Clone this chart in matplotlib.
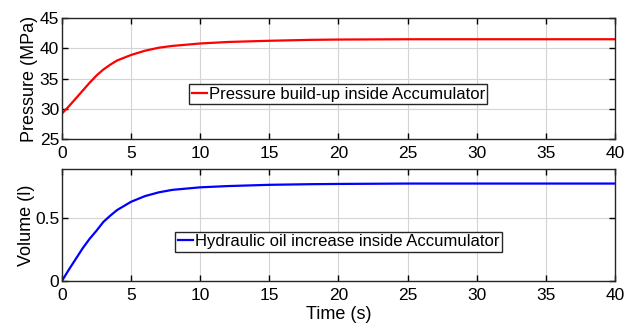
import numpy as np
import matplotlib.pyplot as plt

plt.rcParams['font.family'] = ['Liberation Sans', 'DejaVu Sans']
plt.rcParams['font.size'] = 12.5

# values
t = [0, 0.5, 1, 1.5, 2, 2.5, 3, 3.5, 4, 5, 6, 7, 8, 10, 12, 15, 18, 20, 25, 30, 40]
pressure = [29.2, 30.4, 31.7, 33.0, 34.3, 35.5, 36.5, 37.3, 38.0, 38.9, 39.6, 40.1,
            40.4, 40.8, 41.05, 41.25, 41.4, 41.45, 41.5, 41.5, 41.5]
volume = [0, 0.09, 0.175, 0.26, 0.335, 0.40, 0.47, 0.52, 0.565, 0.63, 0.675, 0.705,
          0.725, 0.745, 0.755, 0.765, 0.77, 0.772, 0.775, 0.775, 0.775]

fig = plt.figure(figsize=(6.32, 3.29), dpi=100)
ax1 = fig.add_axes([0.098, 0.5775, 0.875, 0.3675])
ax2 = fig.add_axes([0.098, 0.146, 0.875, 0.34])


def style(ax):
    ax.grid(True, color='#d4d4d4', linewidth=0.8)
    ax.tick_params(direction='in', top=True, right=True, length=4, width=1,
                   labelsize=12.5)
    ax.tick_params(axis='y', pad=2)
    ax.tick_params(axis='x', pad=5)
    for s in ax.spines.values():
        s.set_linewidth(1.0)
        s.set_color('#262626')
    ax.set_xlim(0, 40)
    ax.set_xticks(np.arange(0, 41, 5))


leg_kw = dict(loc='center', fancybox=False, edgecolor='#262626', framealpha=1,
              fontsize=12, handlelength=0.9, handletextpad=0.1, borderpad=0.15,
              borderaxespad=0)

ax1.plot(t, pressure, color='#ff0000', linewidth=1.6, label='Pressure build-up inside Accumulator')
ax1.set_ylim(25, 45)
ax1.set_yticks([25, 30, 35, 40, 45])
ax1.set_ylabel('Pressure (MPa)', fontsize=13, labelpad=1)
style(ax1)
ax1.legend(bbox_to_anchor=(0.5, 0.37), **leg_kw)

ax2.plot(t, volume, color='#0000ff', linewidth=1.6, label='Hydraulic oil increase inside Accumulator')
ax2.set_ylim(0, 0.89)
ax2.set_yticks([0, 0.5])
ax2.set_yticklabels(['0', '0.5'])
ax2.set_ylabel('Volume (l)', fontsize=13, labelpad=0)
ax2.set_xlabel('Time (s)', fontsize=13, labelpad=2)
style(ax2)
ax2.legend(bbox_to_anchor=(0.5, 0.35), **leg_kw)

fig.savefig('out.png', dpi=100)
